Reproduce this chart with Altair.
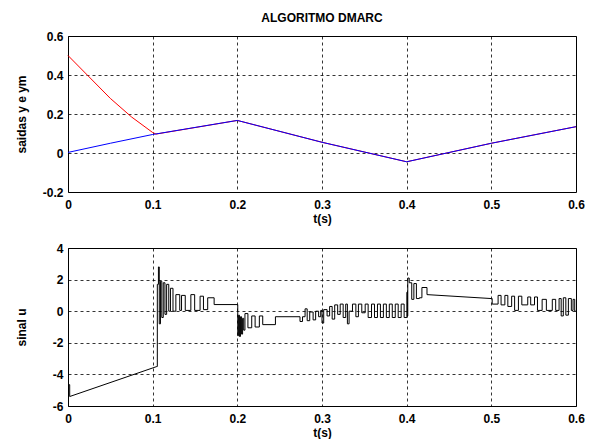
import altair as alt
import pandas as pd

FONT = "Liberation Sans"

# ---- tick positions -------------------------------------------------------
x_ticks = [0, 0.1, 0.2, 0.3, 0.4, 0.5, 0.6]
y_ticks_top = [-0.2, 0, 0.2, 0.4, 0.6]
y_ticks_bot = [-6, -4, -2, 0, 2, 4]

# ---- outputs: plant output y (blue) and reference model ym (red) ----------
t_y = [0.0, 0.05, 0.1, 0.2, 0.3, 0.4, 0.5, 0.6]
y_vals = [0.003, 0.05, 0.095, 0.167, 0.055, -0.045, 0.05, 0.135]

t_ym = [0.0, 0.025, 0.05, 0.075, 0.1, 0.104, 0.2, 0.3, 0.4, 0.5, 0.6]
ym_vals = [0.5, 0.39, 0.28, 0.185, 0.105, 0.097, 0.167, 0.055, -0.045, 0.05, 0.135]

# ---- control signal u: switching instants and held levels -----------------
u_t = [
    # start-up and first ramp
    0.0000, 0.0020, 0.1050,
    # transient after the first reference change
    0.1055, 0.1068, 0.1078, 0.1092, 0.1108, 0.1125, 0.1145, 0.1165, 0.1190,
    0.1210, 0.1240, 0.1274, 0.1320, 0.1341, 0.1385, 0.1451, 0.1496, 0.1560,
    0.1600, 0.1650, 0.1726,
    # second reference change
    0.2005, 0.2015, 0.2025, 0.2037, 0.2050, 0.2062, 0.2075, 0.2090, 0.2125,
    0.2170, 0.2210, 0.2260, 0.2300, 0.2450,
    0.2740, 0.2770, 0.2800, 0.2825, 0.2855, 0.2895, 0.2925, 0.2960, 0.2985,
    0.3000, 0.3020, 0.3060, 0.3090, 0.3120, 0.3150, 0.3185, 0.3215, 0.3250,
    0.3280, 0.3300, 0.3320, 0.3360, 0.3400, 0.3430, 0.3470, 0.3510, 0.3545,
    0.3585, 0.3620, 0.3655, 0.3690, 0.3725, 0.3760, 0.3795, 0.3830, 0.3865,
    0.3900, 0.3935, 0.3970,
    # third reference change
    0.4003, 0.4008, 0.4013, 0.4030, 0.4060, 0.4085, 0.4115, 0.4150, 0.4180,
    0.4240, 0.5000,
    # fourth reference change
    0.5010, 0.5080, 0.5115, 0.5160, 0.5195, 0.5240, 0.5275, 0.5320, 0.5360,
    0.5430, 0.5465, 0.5510, 0.5545, 0.5600, 0.5650, 0.5720, 0.5760, 0.5800,
    0.5825, 0.5850, 0.5880, 0.5910, 0.5945, 0.5965, 0.5985,
]
u_v = [
    -4.65, -5.40, -3.50,
    1.70, 2.80, -0.80, 1.90, -0.40, 1.80, -0.20, 1.70, 0.00,
    1.45, 0.00, 1.05, 0.05, 1.00, 0.05, 1.05, 0.05, 0.95,
    0.10, 0.85, 0.42,
    -1.55, -0.25, -1.60, -0.35, -1.45, -0.45, -1.20, -0.15, -1.05,
    -0.30, -1.00, -0.30, -0.85, -0.35,
    -0.65, -0.35, 0.15, -0.60, -0.05, -0.55, 0.00, -0.35, 0.05,
    -0.75, 0.10, -0.30, 0.30, -0.50, 0.40, -0.20, 0.45, -0.40,
    0.45, -0.80, 0.00, 0.45, -0.35, 0.45, -0.10, 0.45, -0.40,
    0.45, -0.40, 0.45, -0.40, 0.45, -0.40, 0.45, -0.40, 0.45,
    -0.40, 0.45, -0.40,
    1.20, -0.30, 2.10, 1.80, 0.75, 1.75, 0.80, 0.85, 1.50,
    1.05, 0.80,
    0.45, 1.00, 0.40, 1.00, 0.30, 0.95, 0.05, 0.95, 0.40,
    0.90, 0.40, 0.90, 0.05, 0.75, 0.05, 0.75, 0.05, 0.80,
    -0.30, 0.85, -0.25, 0.80, 0.05, 0.75, 0.00,
]
# instants reached by a straight ramp from the previous point instead of a step
u_ramp_ends = [0.1050, 0.5000]
u_t_end = 0.6

# build the polyline of the sampled (zero-order hold) control signal
rows = []
for i, (t, v) in enumerate(zip(u_t, u_v)):
    if i > 0 and t not in u_ramp_ends:
        rows.append((t, u_v[i - 1]))
    rows.append((t, v))
rows.append((u_t_end, u_v[-1]))
u_df = pd.DataFrame({"t": [r[0] for r in rows], "u": [r[1] for r in rows],
                     "i": list(range(len(rows)))})

y_df = pd.DataFrame({"t": t_y, "v": y_vals})
ym_df = pd.DataFrame({"t": t_ym, "v": ym_vals})

label_expr = ("datum.value < 0 ? '-' + format(-datum.value, '~g') "
              ": format(datum.value, '~g')")

x_scale = alt.Scale(domain=[0, 0.6], nice=False, zero=False)


def x_enc():
    return alt.X("t:Q", scale=x_scale,
                 axis=alt.Axis(values=x_ticks, title="t(s)", labelExpr=label_expr))


top_y = alt.Y("v:Q", scale=alt.Scale(domain=[-0.2, 0.6], nice=False),
              axis=alt.Axis(values=y_ticks_top, title="saidas y e ym",
                            labelExpr=label_expr))

ym_line = alt.Chart(ym_df).mark_line(color="#ff0000", strokeWidth=1).encode(
    x=x_enc(), y=top_y)
y_line = alt.Chart(y_df).mark_line(color="#0000ff", strokeWidth=1).encode(
    x=x_enc(), y=top_y)

top = alt.layer(ym_line, y_line).properties(
    width=508, height=156,
    title=alt.TitleParams("ALGORITMO DMARC", font=FONT, fontSize=12,
                          fontWeight="bold", color="black", anchor="middle",
                          offset=5),
)

bottom = alt.Chart(u_df).mark_line(color="black", strokeWidth=1).encode(
    x=x_enc(),
    y=alt.Y("u:Q", scale=alt.Scale(domain=[-6, 4], nice=False),
            axis=alt.Axis(values=y_ticks_bot, title="sinal u", labelExpr=label_expr)),
    order="i:Q",
).properties(width=508, height=158)

chart = (
    alt.vconcat(top, bottom, spacing=16)
    .properties(padding={"left": 14, "top": 11, "right": 0, "bottom": 0},
                background="white")
    .configure_view(stroke="black", strokeWidth=1)
    .configure_axis(
        labelFont=FONT, labelFontSize=12, labelFontWeight="bold", labelColor="black",
        titleFont=FONT, titleFontSize=12, titleFontWeight="bold", titleColor="black",
        grid=True, gridColor="black", gridDash=[3, 3], gridWidth=0.8, gridOpacity=1,
        domain=False, ticks=False, labelPadding=5, labelFlush=False,
    )
    .configure_axisX(labelPadding=7, titlePadding=3)
    .configure_axisY(minExtent=30, maxExtent=30, titlePadding=10)
)

chart.save("out.html", embed_options={"renderer": "svg", "actions": False})
